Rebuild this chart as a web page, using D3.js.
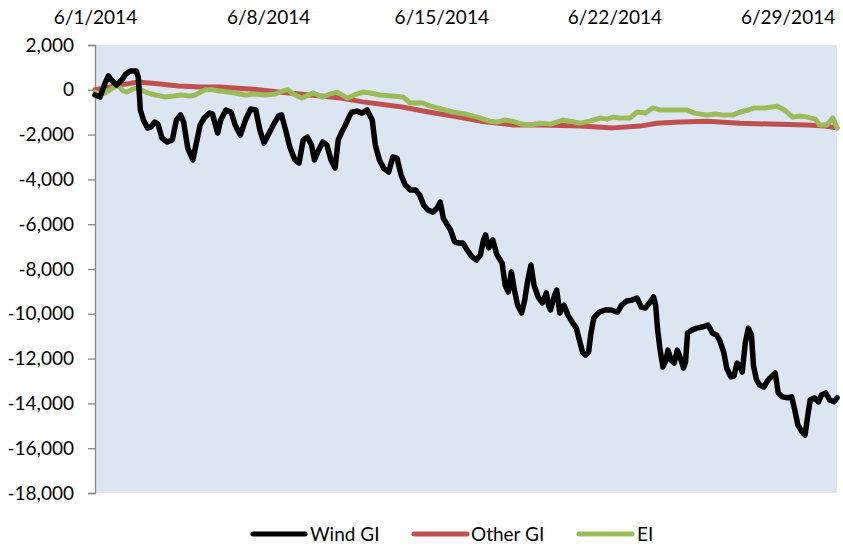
<!DOCTYPE html>
<html>
<head>
<meta charset="utf-8">
<script src="https://cdn.jsdelivr.net/npm/d3@7"></script>
<style>
  html, body { margin: 0; padding: 0; background: #fff; }
  svg text { font-family: Lato, "Liberation Sans", sans-serif; fill: #000; }
</style>
</head>
<body>
<svg id="chart" width="843" height="546"></svg>
<script>
// ---- Data (hours since 6/1/2014 00:00, values) ----
const seriesNames = ["Wind GI", "Other GI", "EI"];
const seriesColors = ["#000000", "#C0504D", "#9BBB59"];

const windHours = [0,5,9,13,16,21,26,30,34,40,42,44,47,51,54,58,61,65,70,75,79,83,86,90,95,98,102,106,111,114,119,122,127,132,136,141,146,151,156,160,164,168,173,178,181,185,189,194,198,202,206,210,213,217,221,225,229,233,236,239,243,246,249,254,259,264,269,272,276,280,285,289,293,297,301,306,311,315,319,323,328,332,335,338,342,345,349,353,357,361,366,370,374,377,379,382,386,390,395,398,401,404,407,410,414,417,420,423,426,430,434,438,440,442,446,448,451,455,459,463,467,470,473,476,479,481,484,489,495,501,507,511,516,521,526,530,534,538,542,544,546,548,551,554,556,559,562,565,567,571,573,575,579,584,589,595,599,603,606,610,613,617,620,623,626,628,631,634,637,639,642,645,649,653,656,660,663,667,672,676,679,682,686,689,692,694,698,702,705,709,713,717,720];
const windValues = [-230,-320,210,620,440,210,440,710,840,840,570,-900,-1350,-1710,-1670,-1440,-1530,-2150,-2330,-2240,-1350,-1120,-1440,-2600,-3130,-2460,-1570,-1260,-1040,-1080,-1930,-1350,-900,-990,-1570,-2020,-1350,-860,-900,-1800,-2380,-2020,-1570,-1170,-1120,-1800,-2550,-3130,-3270,-2240,-2110,-2460,-3130,-2690,-2330,-2460,-3130,-3490,-2240,-1930,-1570,-1260,-1000,-950,-1040,-900,-1350,-2460,-3130,-3490,-3670,-3000,-3050,-3800,-4250,-4470,-4470,-4700,-5150,-5370,-5460,-5280,-5010,-5730,-6040,-6260,-6790,-6840,-6840,-7150,-7460,-7600,-7370,-6700,-6480,-7060,-6700,-7370,-7730,-8720,-9030,-8130,-8940,-9610,-9960,-9380,-8490,-7820,-8720,-9250,-9520,-9070,-9610,-9830,-9160,-8940,-9960,-9610,-10060,-10370,-10640,-11170,-11700,-11840,-11700,-10940,-10190,-9930,-9830,-9830,-9930,-9610,-9430,-9390,-9300,-9700,-9740,-9520,-9250,-9610,-10730,-11490,-12380,-12070,-11620,-12070,-12200,-11620,-11840,-12420,-12160,-10860,-10730,-10640,-10590,-10500,-10860,-10950,-11170,-11700,-12420,-12820,-12780,-12200,-12330,-12600,-11300,-10640,-10950,-12340,-12960,-13180,-13270,-12960,-12820,-12640,-13530,-13710,-13750,-13710,-14290,-14960,-15270,-15410,-14430,-13850,-13750,-13930,-13620,-13530,-13850,-13930,-13750];

const otherHours = [0,10,24,42,63,81,102,121,150,178,209,238,260,298,325,347,374,406,432,471,503,529,545,568,594,626,655,691,708,720];
const otherValues = [0,80,210,350,260,170,130,120,40,-100,-230,-370,-540,-770,-1000,-1170,-1400,-1570,-1570,-1620,-1700,-1620,-1490,-1440,-1400,-1490,-1530,-1570,-1620,-1700];

const eiHours = [0,5,10,16,22,27,31,37,42,47,51,59,68,76,84,92,97,107,114,121,129,136,146,155,165,175,182,187,194,201,207,212,221,228,235,245,252,260,267,277,288,299,306,313,318,325,332,340,347,359,371,383,390,398,405,414,422,432,442,454,461,471,480,490,497,503,509,519,526,534,541,548,555,565,574,582,594,602,611,619,626,634,640,650,662,669,677,684,691,699,703,710,716,720];
const eiValues = [-100,-190,-140,40,210,-50,-100,40,80,-50,-140,-230,-320,-280,-230,-280,-230,0,0,-50,-100,-140,-230,-190,-230,-190,-50,0,-230,-370,-230,-140,-320,-190,-100,-370,-230,-100,-140,-230,-280,-320,-590,-590,-590,-720,-810,-900,-990,-1080,-1220,-1400,-1440,-1350,-1400,-1530,-1570,-1490,-1530,-1350,-1400,-1490,-1400,-1260,-1310,-1220,-1260,-1260,-990,-1040,-810,-900,-900,-900,-900,-1040,-1130,-1080,-1130,-1130,-990,-900,-810,-810,-730,-900,-1220,-1170,-1220,-1310,-1570,-1570,-1260,-1700];

const xTickLabels = ["6/1/2014", "6/8/2014", "6/15/2014", "6/22/2014", "6/29/2014"];
const yTicks = [2000, 0, -2000, -4000, -6000, -8000, -10000, -12000, -14000, -16000, -18000];

// ---- Layout ----
const svg = d3.select("#chart");
const plotL = 95, plotR = 837, plotT = 45, plotB = 493;
const startDate = new Date(2014, 5, 1);
const hourToDate = h => new Date(startDate.getTime() + h * 3600 * 1000);

const x = d3.scaleTime().domain([startDate, new Date(2014, 6, 1)]).range([plotL, plotR]);
const y = d3.scaleLinear().domain([-18000, 2000]).range([plotB, plotT]);

// plot background
svg.append("rect").attr("x", plotL).attr("y", plotT)
  .attr("width", plotR - plotL).attr("height", plotB - plotT)
  .attr("fill", "#DCE6F2");

// y axis
const fmt = d3.format(",");
const yAxis = d3.axisLeft(y).tickValues(yTicks).tickSize(7).tickPadding(14)
  .tickFormat(d => fmt(d).replace("\u2212", "-"));
const gy = svg.append("g").attr("transform", `translate(${plotL},0)`).call(yAxis);
gy.select(".domain").attr("stroke", "#868686").attr("stroke-width", 1.3);
gy.selectAll(".tick line").attr("stroke", "#868686").attr("stroke-width", 1.3);
gy.selectAll(".tick text").attr("font-size", 19).attr("font-family", "Lato, sans-serif");

// x axis labels on top
const tickDates = xTickLabels.map(s => { const p = s.split("/"); return new Date(+p[2], +p[0] - 1, +p[1]); });
const xAxis = d3.axisTop(x).tickValues(tickDates).tickSize(0).tickPadding(0)
  .tickFormat((d, i) => xTickLabels[i]);
const gx = svg.append("g").attr("transform", `translate(0,24)`).call(xAxis);
gx.select(".domain").remove();
gx.selectAll(".tick text").attr("font-size", 19).attr("font-family", "Lato, sans-serif").attr("dy", 0);

// lines
const line = d3.line().x(d => x(hourToDate(d[0]))).y(d => y(d[1]));
const allSeries = [
  { hours: otherHours, values: otherValues, color: seriesColors[1], w: 5 },
  { hours: eiHours, values: eiValues, color: seriesColors[2], w: 5 },
  { hours: windHours, values: windValues, color: seriesColors[0], w: 5.5 }
];
allSeries.forEach(s => {
  const pts = s.hours.map((h, j) => [h, s.values[j]]);
  svg.append("path").datum(pts)
    .attr("d", line)
    .attr("fill", "none")
    .attr("stroke", s.color)
    .attr("stroke-width", s.w)
    .attr("stroke-linejoin", "round")
    .attr("stroke-linecap", "round");
});

// legend
const legendItems = [
  { name: seriesNames[0], color: seriesColors[0], x1: 253, x2: 305, tx: 310 },
  { name: seriesNames[1], color: seriesColors[1], x1: 414, x2: 467, tx: 471 },
  { name: seriesNames[2], color: seriesColors[2], x1: 579, x2: 632, tx: 637 }
];
const lg = svg.append("g");
legendItems.forEach(it => {
  lg.append("line").attr("x1", it.x1).attr("x2", it.x2).attr("y1", 534).attr("y2", 534)
    .attr("stroke", it.color).attr("stroke-width", 5).attr("stroke-linecap", "round");
  lg.append("text").attr("x", it.tx).attr("y", 541).attr("font-size", 19).text(it.name);
});
</script>
</body>
</html>
